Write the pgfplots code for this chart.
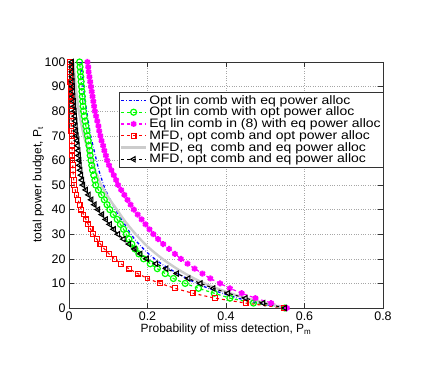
\documentclass[border=0pt]{standalone}
\usepackage{fontspec}
\setmainfont{Liberation Sans}
\newfontfamily\legfont[FakeStretch=1.14]{Liberation Sans}
\usepackage{pgfplots}
\usepackage{pgfplotstable}
\pgfplotsset{compat=1.18}
\pgfplotstableread{
P red black green blue magenta
0 .548 .550 .550 .550 .555
2 .450 .495 .470 .480 .515
4 .372 .450 .410 .430 .475
6 .315 .405 .370 .390 .440
8 .270 .368 .330 .355 .410
10 .232 .335 .296 .325 .385
12 .200 .304 .266 .300 .360
14 .175 .275 .245 .277 .340
16 .152 .248 .225 .255 .320
18 .132 .222 .207 .235 .302
20 .116 .198 .190 .218 .285
22 .102 .182 .178 .203 .270
24 .090 .167 .168 .190 .255
26 .080 .153 .160 .178 .240
28 .071 .139 .153 .167 .227
30 .062 .125 .146 .158 .215
32 .055 .114 .139 .150 .205
34 .049 .104 .131 .142 .195
36 .043 .094 .123 .134 .185
38 .037 .084 .113 .126 .175
40 .031 .074 .104 .118 .165
42 .027 .065 .097 .112 .157
44 .023 .057 .090 .105 .149
46 .019 .050 .083 .099 .141
48 .016 .043 .075 .093 .133
50 .013 .036 .068 .088 .125
52 .012 .033 .066 .084 .120
54 .011 .031 .063 .080 .114
56 .010 .029 .060 .076 .108
58 .0095 .027 .058 .073 .102
60 .009 .026 .056 .070 .097
62 .0085 .025 .054 .067 .094
64 .008 .024 .053 .064 .090
66 .0075 .022 .051 .061 .087
68 .007 .021 .049 .058 .083
70 .0065 .019 .047 .055 .080
72 .006 .018 .045 .053 .077
74 .0057 .017 .043 .051 .075
76 .0054 .016 .041 .049 .072
78 .0051 .015 .039 .047 .069
80 .0048 .014 .037 .045 .066
82 .0045 .013 .036 .043 .064
84 .0043 .012 .035 .041 .062
86 .0041 .011 .034 .039 .060
88 .0039 .010 .033 .038 .058
90 .0037 .0095 .032 .036 .056
92 .0035 .009 .031 .035 .054
94 .0033 .0085 .030 .034 .052
96 .0031 .008 .029 .033 .050
98 .0030 .0075 .028 .032 .049
100 .0029 .007 .027 .031 .047
}\datatable
\pgfplotstableread{
P gray
0 .550
5 .430
10 .345
15 .285
20 .238
25 .200
30 .170
35 .144
40 .122
45 .100
50 .082
55 .069
60 .058
65 .047
70 .038
75 .031
80 .025
85 .021
90 .017
95 .014
100 .012
}\graytable
\definecolor{mgreen}{rgb}{0,1,0}
\definecolor{mmag}{rgb}{1,0,1}
\definecolor{mred}{rgb}{1,0,0}
\definecolor{mblue}{rgb}{0,0,1}
\definecolor{mgray}{rgb}{0.8,0.8,0.8}
\begin{document}
\begin{tikzpicture}
\begin{axis}[
  scale only axis,
  width=314bp, height=246bp,
  xmin=0, xmax=0.8, ymin=0, ymax=100,
  xtick={0,0.2,0.4,0.6,0.8},
  ytick={0,10,...,100},
  xticklabels={0,0.2,0.4,0.6,0.8},
  tick align=inside,
  major tick length=5bp,
  xtick pos=both, ytick pos=both,
  grid=major,
  major grid style={dotted, gray!70, line width=0.35bp},
  axis line style={line width=0.6bp, black!80},
  tick style={black!80, line width=0.5bp},
  ticklabel style={font=\fontsize{12.5}{14}\selectfont},
  /pgf/number format/assume math mode=true,
  xlabel={Probability of miss detection, P\textsubscript{m}},
  ylabel={total power budget, P\textsubscript{t}},
  label style={font=\fontsize{12}{14}\selectfont},
  xlabel style={yshift=3bp},
  ylabel style={yshift=-6bp},
  legend cell align=left,
  legend style={at={(rel axis cs:1.003,0.878)}, anchor=north east,
    font=\legfont\fontsize{12.3}{12}\selectfont, draw=black!80, line width=0.5bp,
    inner sep=1bp, row sep=-2.6bp},
  legend image code/.code={\draw[#1,mark repeat=2,mark phase=2] plot coordinates {(0bp,0bp) (12.5bp,0bp) (25bp,0bp)};},
]
\addplot[color=mblue, dash dot, line width=1.3bp] table[x=blue,y=P] {\datatable};
\addlegendentry{Opt lin comb with eq power alloc}
\addplot[color=mgreen, dashed, line width=1.2bp, mark=o, mark size=3bp, mark options={solid}] table[x=green,y=P] {\datatable};
\addlegendentry{Opt lin comb with opt power alloc}
\addplot[color=mmag, dashed, line width=1.2bp, mark=asterisk, mark size=3bp, mark options={solid, line width=2bp}] table[x=magenta,y=P] {\datatable};
\addlegendentry{Eq lin comb in (8) with eq power alloc}
\addplot[color=mred, dashed, line width=1.1bp, mark=square, mark size=2.4bp, mark options={solid, draw=mred}] table[x=red,y=P] {\datatable};
\addlegendentry{MFD, opt comb and opt power alloc}
\addplot[color=mgray, solid, line width=2.4bp, smooth] table[x=gray,y=P] {\graytable};
\addlegendentry{MFD, eq\ \ comb and eq power alloc}
\addplot[color=black, dashed, line width=1.1bp, mark=triangle, mark size=3bp, mark options={solid, rotate=90}] table[x=black,y=P] {\datatable};
\addlegendentry{MFD, opt comb and eq power alloc}
\end{axis}
\path ([shift={(-69bp,-74bp)}]current axis.south west) rectangle ([shift={(367bp,308bp)}]current axis.south west);
\end{tikzpicture}
\end{document}
